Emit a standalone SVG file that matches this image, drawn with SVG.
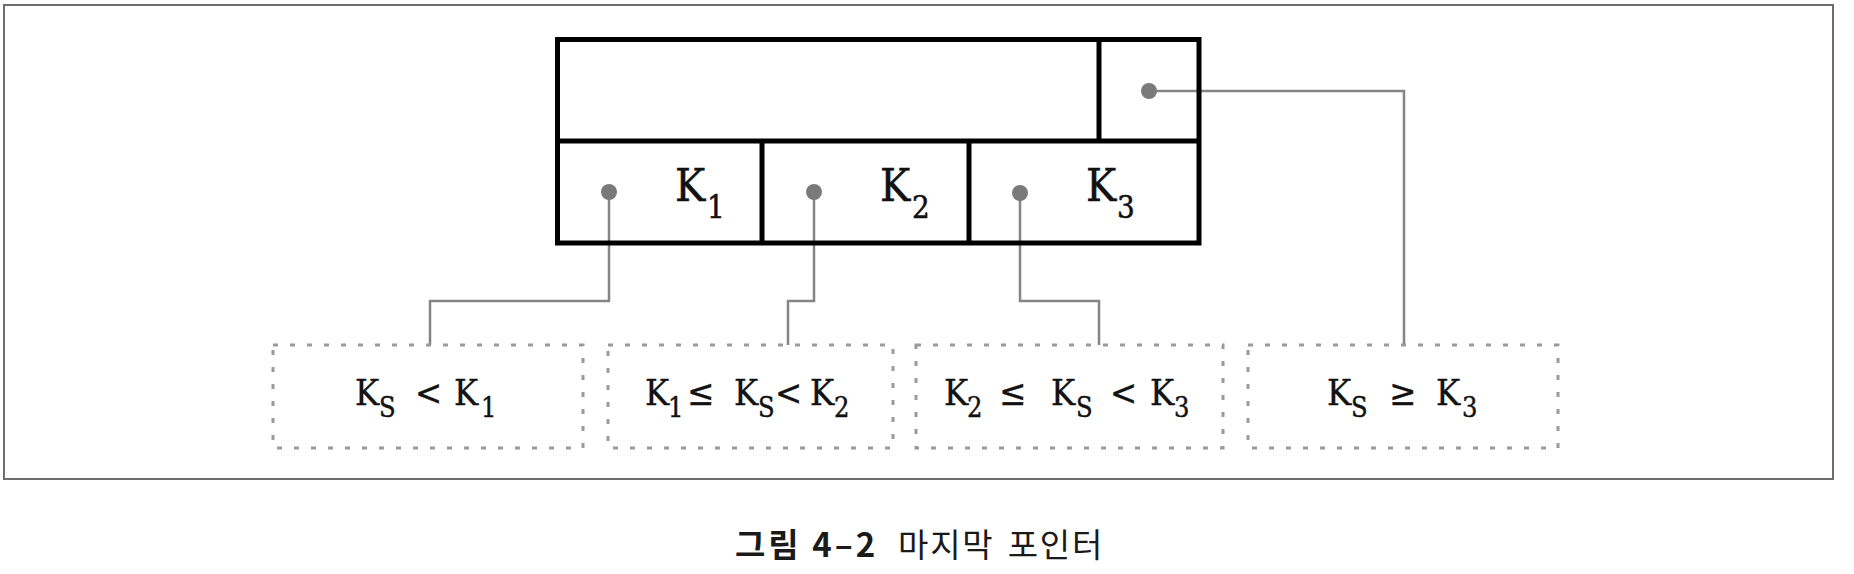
<svg xmlns="http://www.w3.org/2000/svg" width="1854" height="574" viewBox="0 0 1854 574">
<style>
.frame{fill:#fff;stroke:#6e6e6e;stroke-width:2}
.cell{fill:none;stroke:#000;stroke-width:5}
.dot{fill:#7a7a7a}
.conn{fill:none;stroke:#858585;stroke-width:2.5}
.range{fill:#fff;stroke:#9a9a9a;stroke-width:3;stroke-dasharray:5 12}
.key{font-family:'DejaVu Serif Condensed','DejaVu Serif',serif;font-size:45px;fill:#111;stroke:#111;stroke-width:0.5}
.ksub{font-size:31px}
.bt{font-family:'DejaVu Serif Condensed','DejaVu Serif',serif;font-size:36px;fill:#111;stroke:#111;stroke-width:0.4}
.sub{font-size:27px}
.cap{font-family:'Noto Sans CJK KR','Noto Sans',sans-serif;font-size:33px;fill:#1a1a1a}
</style>
<rect width="1854" height="574" fill="#fff"/>
<rect class="frame" x="4" y="5" width="1829" height="474"/>
<g id="connectors">
<path class="conn" d="M609,192 V301 H430 V345"/>
<path class="conn" d="M814,192 V301 H788 V345"/>
<path class="conn" d="M1020,193 V301 H1099 V345"/>
<path class="conn" d="M1149,91 H1404 V345"/>
</g>
<g id="node-main">
<rect class="cell" x="557.5" y="39.5" width="641.5" height="203.5"/>
<line class="cell" x1="557.5" y1="141" x2="1199" y2="141"/>
<line class="cell" x1="1099" y1="39.5" x2="1099" y2="141"/>
<line class="cell" x1="762" y1="141" x2="762" y2="243"/>
<line class="cell" x1="969" y1="141" x2="969" y2="243"/>
<circle class="dot" cx="1149" cy="91" r="8"/>
<circle class="dot" cx="609" cy="192" r="8"/>
<circle class="dot" cx="814" cy="192" r="8"/>
<circle class="dot" cx="1020" cy="193" r="8"/>
<text class="key" y="201"><tspan x="675">K</tspan><tspan class="ksub" x="707" y="218">1</tspan></text>
<text class="key" y="201"><tspan x="880">K</tspan><tspan class="ksub" x="912" y="218">2</tspan></text>
<text class="key" y="201"><tspan x="1086">K</tspan><tspan class="ksub" x="1117" y="218">3</tspan></text>
</g>
<g id="node-range1">
<rect class="range" x="273" y="345" width="310" height="103"/>
<text class="bt" y="405"><tspan x="355">K</tspan><tspan class="sub" x="379" y="417">S</tspan><tspan x="415" y="405">&lt;</tspan><tspan x="454">K</tspan><tspan class="sub" x="481" y="417">1</tspan></text>
</g>
<g id="node-range2">
<rect class="range" x="608" y="345" width="285" height="103"/>
<text class="bt" y="405"><tspan x="645">K</tspan><tspan class="sub" x="668" y="417">1</tspan><tspan x="687" y="405">≤</tspan><tspan x="734">K</tspan><tspan class="sub" x="758" y="417">S</tspan><tspan x="775" y="405">&lt;</tspan><tspan x="810">K</tspan><tspan class="sub" x="834" y="417">2</tspan></text>
</g>
<g id="node-range3">
<rect class="range" x="916" y="345" width="307" height="103"/>
<text class="bt" y="405"><tspan x="944">K</tspan><tspan class="sub" x="967" y="417">2</tspan><tspan x="999" y="405">≤</tspan><tspan x="1051">K</tspan><tspan class="sub" x="1076" y="417">S</tspan><tspan x="1110" y="405">&lt;</tspan><tspan x="1150">K</tspan><tspan class="sub" x="1174" y="417">3</tspan></text>
</g>
<g id="node-range4">
<rect class="range" x="1248" y="345" width="310" height="103"/>
<text class="bt" y="405"><tspan x="1327">K</tspan><tspan class="sub" x="1351" y="417">S</tspan><tspan x="1389" y="405">≥</tspan><tspan x="1436">K</tspan><tspan class="sub" x="1462" y="417">3</tspan></text>
</g>
<g id="caption">
<text class="cap" x="735" y="557" font-weight="bold" letter-spacing="3">그림 4–2</text>
<text class="cap" x="898" y="557" letter-spacing="1.8" word-spacing="4">마지막 포인터</text>
</g>
</svg>
